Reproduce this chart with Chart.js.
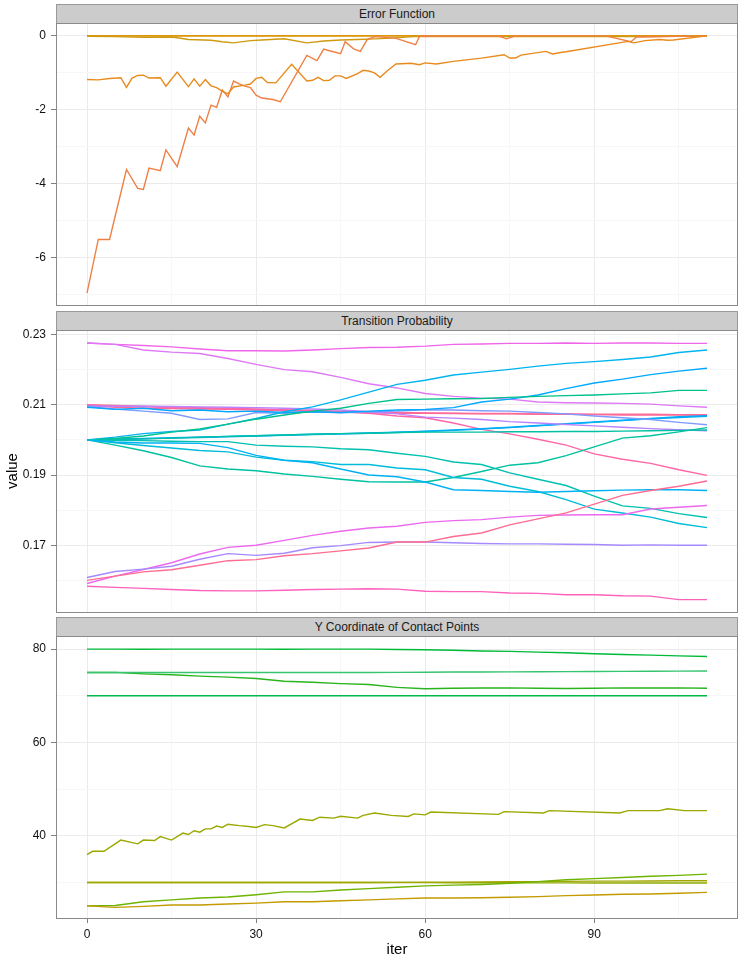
<!DOCTYPE html>
<html>
<head>
<meta charset="utf-8">
<script src="https://cdn.jsdelivr.net/npm/chart.js@4.4.0/dist/chart.umd.min.js"></script>
<style>
body{margin:0;background:#fff;font-family:Arial,"Liberation Sans",sans-serif;}
#wrap{position:relative;width:748px;height:964px;overflow:hidden;}
canvas{position:absolute;left:0;}
.strip{position:absolute;left:56px;width:682px;height:19px;background:#ccc;box-sizing:border-box;border:1px solid #999;border-bottom:none;font-size:12px;text-align:center;line-height:18px;color:#1a1a1a;}
.lab{position:absolute;font-size:15px;color:#000;height:16px;line-height:16px;width:40px;text-align:center;}
</style>
</head>
<body>
<div id="wrap">
  <div class="strip" style="top:4px">Error Function</div>
  <div class="strip" style="top:311px">Transition Probability</div>
  <div class="strip" style="top:617px">Y Coordinate of Contact Points</div>
  <canvas id="c1" width="748" height="293" style="top:13px"></canvas>
  <canvas id="c2" width="748" height="293" style="top:320px"></canvas>
  <canvas id="c3" width="748" height="337" style="top:626px"></canvas>
  <div class="lab" style="left:-8px;top:463px;transform:rotate(-90deg)">value</div>
  <div class="lab" style="left:377px;top:941px">iter</div>
</div>
<script>
// x axis
const xTicks = [0, 30, 60, 90];
const xMinor = [15, 45, 75, 105];

// ---- Error Function
const errIterFlat = [0, 110];
const errFlat = [0, 0];
const errIterGold = [0, 5, 10, 15, 16, 18, 22, 24, 26, 29, 31, 35, 39, 42, 45, 48, 51, 54, 56, 58, 60, 100, 110];
const errGold = [-0.01, -0.02, -0.04, -0.03, -0.05, -0.1, -0.12, -0.16, -0.19, -0.13, -0.11, -0.08, -0.19, -0.14, -0.11, -0.1, -0.08, -0.06, -0.04, -0.02, -0.02, -0.02, 0];
const errIterSalmon = [0, 2, 4, 7, 9, 10, 11, 13, 14, 16, 18, 19, 20, 21, 22, 23, 24, 25, 26, 27, 28, 29, 30, 31, 33, 34.3, 39, 40.8, 42, 43.2, 45, 45.8, 47.3, 48.5, 49.7, 51, 54.7, 58.3, 59, 73, 74.4, 76, 92, 96.5, 97.5, 110];
const errSalmon = [-6.95, -5.5, -5.5, -3.61, -4.12, -4.15, -3.57, -3.64, -3.08, -3.53, -2.49, -2.68, -2.17, -2.35, -1.87, -1.93, -1.46, -1.65, -1.22, -1.3, -1.36, -1.4, -1.6, -1.68, -1.72, -1.78, -0.53, -0.67, -0.36, -0.41, -0.48, -0.16, -0.35, -0.42, -0.1, -0.02, -0.06, -0.24, -0.01, 0, -0.08, 0, 0, -0.16, -0.03, 0];
const errIterOrange = [0, 2, 4, 6, 7, 8, 9, 10, 11, 13, 14, 16, 18, 19, 20, 21, 22, 23, 24, 25, 26, 28, 29, 30, 31, 32, 33.5, 36.3, 39, 40, 41, 42, 43, 44, 45, 46, 48, 49, 50, 51, 52, 53.3, 54.8, 57.5, 59, 60, 62, 65, 70, 74, 75, 76, 77, 81.4, 82.6, 84, 85, 96, 97, 99, 101.6, 103, 104, 110];
const errOrange = [-1.18, -1.19, -1.15, -1.13, -1.39, -1.14, -1.07, -1.06, -1.14, -1.13, -1.36, -0.98, -1.37, -1.16, -1.36, -1.18, -1.35, -1.4, -1.5, -1.56, -1.38, -1.33, -1.3, -1.15, -1.12, -1.26, -1.27, -0.77, -1.22, -1.2, -1.12, -1.21, -1.2, -1.08, -1.08, -1.15, -1.02, -0.93, -0.95, -1.0, -1.12, -0.94, -0.76, -0.74, -0.78, -0.73, -0.76, -0.69, -0.6, -0.51, -0.6, -0.6, -0.52, -0.42, -0.49, -0.45, -0.43, -0.15, -0.19, -0.13, -0.1, -0.12, -0.11, 0];
const errTicks = [0, -2, -4, -6];
const errMinor = [-1, -3, -5, -7];

// ---- Transition Probability (iter 0,5,...,110)
const iters = [0, 5, 10, 15, 20, 25, 30, 35, 40, 45, 50, 55, 60, 65, 70, 75, 80, 85, 90, 95, 100, 105, 110];
const tp1 = [.2276, .2272, .2269, .2265, .2259, .2254, .2254, .2253, .2256, .2260, .2263, .2264, .2267, .2272, .2273, .2275, .2275, .2276, .2275, .2276, .2276, .2275, .2275];
const tp2 = [.2276, .2272, .2256, .2250, .2246, .2232, .2215, .2200, .2194, .2178, .2160, .2148, .2132, .2124, .2119, .2116, .2108, .2106, .2105, .2104, .2102, .2097, .2093];
const tp3 = [.2100, .2098, .2096, .2094, .2092, .2090, .2088, .2086, .2084, .2082, .2080, .2078, .2077, .2076, .2075, .2075, .2074, .2074, .2073, .2073, .2073, .2072, .2072];
const tp3b = [.2098, .2093, .2090, .2089, .2088, .2087, .2085, .2083, .2082, .2079, .2077, .2076, .2076, .2075, .2074, .2074, .2073, .2073, .2072, .2071, .2071, .2071, .2070];
const tp4 = [.2099, .2096, .2094, .2092, .2090, .2089, .2087, .2085, .2083, .2080, .2076, .2068, .2063, .2048, .2030, .2017, .2002, .1985, .1960, .1945, .1933, .1915, .1899];
const tp5 = [.2097, .2096, .2096, .2095, .2094, .2093, .2092, .2090, .2088, .2085, .2080, .2074, .2065, .2062, .2058, .2052, .2048, .2044, .2040, .2036, .2032, .2029, .2026];
const tp6 = [.2095, .2088, .2082, .2076, .2058, .2060, .2078, .2076, .2080, .2077, .2080, .2082, .2086, .2085, .2083, .2082, .2078, .2074, .2068, .2063, .2058, .2050, .2043];
const tp7 = [.2000, .2008, .2018, .2024, .2028, .2045, .2061, .2080, .2094, .2114, .2136, .2158, .2170, .2185, .2193, .2201, .2210, .2218, .2223, .2229, .2236, .2249, .2256];
const tp8 = [.2093, .2087, .2090, .2083, .2085, .2080, .2082, .2078, .2080, .2078, .2082, .2085, .2087, .2092, .2108, .2116, .2128, .2146, .2162, .2173, .2186, .2196, .2204];
const tp9 = [.2000, .2004, .2011, .2022, .2031, .2045, .2059, .2071, .2082, .2090, .2104, .2115, .2116, .2117, .2118, .2121, .2124, .2126, .2128, .2131, .2134, .2141, .2141];
const tp10 = [.2000, .2002, .2004, .2006, .2008, .2010, .2012, .2014, .2016, .2018, .2020, .2022, .2025, .2028, .2032, .2036, .2041, .2046, .2051, .2056, .2061, .2066, .2069];
const tp10b = [.2000, .2002, .2003, .2005, .2007, .2009, .2011, .2013, .2015, .2017, .2019, .2021, .2024, .2027, .2031, .2035, .2040, .2045, .2050, .2055, .2060, .2064, .2067];
const tp11 = [.2000, .2001, .2003, .2005, .2008, .2010, .2012, .2014, .2016, .2018, .2019, .2021, .2022, .2022, .2022, .2023, .2023, .2024, .2024, .2025, .2026, .2027, .2028];
const tp12 = [.2000, .1985, .1969, .1950, .1926, .1917, .1912, .1903, .1896, .1888, .1881, .1880, .1880, .1893, .1910, .1928, .1935, .1955, .1980, .2005, .2012, .2023, .2035];
const tp13 = [.2000, .1999, .1998, .1996, .1995, .1995, .1985, .1982, .1980, .1975, .1972, .1962, .1953, .1937, .1930, .1906, .1888, .1870, .1840, .1812, .1805, .1790, .1779];
const tp14 = [.2000, .1992, .1984, .1977, .1970, .1966, .1951, .1942, .1938, .1930, .1930, .1920, .1915, .1893, .1888, .1868, .1853, .1830, .1803, .1792, .1780, .1762, .1750];
const tp15 = [.2000, .1994, .1991, .1991, .1990, .1978, .1956, .1942, .1935, .1917, .1900, .1895, .1880, .1858, .1856, .1853, .1851, .1853, .1855, .1857, .1858, .1858, .1856];
const tp16 = [.1591, .1612, .1631, .1650, .1675, .1694, .1700, .1714, .1728, .1740, .1749, .1754, .1765, .1770, .1773, .1780, .1785, .1786, .1787, .1787, .1803, .1808, .1813];
const tp17 = [.1608, .1625, .1632, .1640, .1660, .1676, .1671, .1677, .1693, .1699, .1708, .1709, .1709, .1707, .1705, .1704, .1704, .1703, .1702, .1700, .1701, .1700, .1700];
const tp18 = [.1600, .1612, .1624, .1630, .1643, .1656, .1659, .1670, .1676, .1684, .1692, .1709, .1709, .1725, .1735, .1758, .1775, .1792, .1817, .1842, .1856, .1868, .1883];
const tp19 = [.1583, .1580, .1577, .1574, .1571, .1570, .1570, .1572, .1574, .1575, .1576, .1575, .1569, .1568, .1568, .1564, .1563, .1559, .1559, .1556, .1555, .1545, .1545];
const tpTicks = [0.17, 0.19, 0.21, 0.23];
const tpTickLabels = ['0.17', '0.19', '0.21', '0.23'];
const tpMinor = [0.16, 0.18, 0.20, 0.22];

// ---- Y Coordinate of Contact Points
const yc80 = [80.0, 80.0, 79.95, 80.0, 80.0, 80.0, 80.0, 79.95, 80.0, 80.0, 80.0, 79.9, 79.85, 79.75, 79.6, 79.5, 79.35, 79.2, 79.0, 78.85, 78.7, 78.55, 78.4];
const yc75a = [75.0, 75.0, 75.0, 75.0, 75.0, 75.0, 75.0, 75.0, 75.0, 75.0, 75.0, 75.02, 75.05, 75.08, 75.1, 75.12, 75.15, 75.18, 75.2, 75.22, 75.25, 75.28, 75.3];
const yc75b = [75.0, 75.0, 74.7, 74.5, 74.2, 74.0, 73.7, 73.1, 72.9, 72.6, 72.4, 71.8, 71.5, 71.6, 71.65, 71.7, 71.6, 71.55, 71.6, 71.7, 71.65, 71.7, 71.6];
const yc70 = [70, 70, 70, 70, 70, 70, 70, 70, 70, 70, 70, 70, 70, 70, 70, 70, 70, 70, 70, 70, 70, 70, 70];
const yc30a = [30.0, 30.0, 30.0, 30.0, 30.0, 30.0, 30.0, 30.0, 30.0, 30.0, 30.0, 30.0, 29.98, 29.97, 29.96, 29.95, 29.94, 29.93, 29.92, 29.91, 29.9, 29.9, 29.9];
const yc30b = [30.0, 30.0, 30.0, 30.0, 30.0, 30.0, 30.0, 30.0, 30.0, 30.0, 30.0, 30.05, 30.08, 30.1, 30.15, 30.18, 30.2, 30.25, 30.3, 30.32, 30.35, 30.38, 30.4];
const yc25a = [25.0, 25.1, 25.9, 26.3, 26.7, 26.9, 27.4, 28.0, 28.0, 28.4, 28.7, 29.0, 29.3, 29.45, 29.6, 29.85, 30.2, 30.6, 30.85, 31.1, 31.35, 31.55, 31.8];
const yc25b = [25.0, 24.7, 24.9, 25.2, 25.2, 25.4, 25.6, 25.9, 25.9, 26.1, 26.3, 26.5, 26.7, 26.7, 26.75, 26.85, 27.0, 27.2, 27.35, 27.5, 27.55, 27.7, 27.9];
const ycIterOlive = [0, 1, 3, 6, 9, 10, 12, 13, 15, 17, 18, 19, 20, 21, 22, 23, 24, 25, 27, 28.7, 30, 31.5, 33, 35, 37.8, 40, 41.3, 43.8, 45, 48, 49, 51, 54, 57, 58, 60, 61, 73, 74, 81, 82, 94.5, 96, 101.6, 103, 106, 110];
const ycOlive = [36.0, 36.7, 36.7, 39.1, 38.3, 39.1, 39.0, 39.85, 39.1, 40.6, 40.3, 41.1, 40.8, 41.5, 41.5, 42.1, 41.8, 42.5, 42.2, 42.0, 41.8, 42.4, 42.2, 41.7, 43.6, 43.3, 44.0, 43.8, 44.2, 43.8, 44.4, 44.9, 44.4, 44.15, 44.7, 44.5, 45.1, 44.6, 45.2, 44.9, 45.4, 44.9, 45.4, 45.4, 45.8, 45.4, 45.4];
const ycTicks = [40, 60, 80];
const ycMinor = [30, 50, 70];

Chart.defaults.font.family = 'Arial, "Liberation Sans", sans-serif';
Chart.defaults.color = '#111';

function pts(xs, ys) { return xs.map((x, i) => ({ x: x, y: ys[i] })); }
function line(xs, ys, color) {
  return { data: pts(xs, ys), borderColor: color, borderWidth: 1.4, pointRadius: 0, tension: 0, fill: false };
}
function has(list, v) { return list.some(t => Math.abs(t - v) < 1e-9); }

const panelBorder = {
  id: 'panelBorder',
  afterDatasetsDraw(chart) {
    const a = chart.chartArea, c = chart.ctx;
    c.save();
    c.strokeStyle = '#8a8a8a';
    c.lineWidth = 1;
    c.strokeRect(a.left + 0.5, a.top + 0.5, a.right - a.left - 1, a.bottom - a.top - 1);
    c.restore();
  }
};

function gridColor(major) {
  return ctx => has(major, ctx.tick.value) ? '#ebebeb' : '#f7f7f7';
}

// canvas is 10px taller than the panel at the top so the top tick label is not cut
function makePanel(id, datasets, yMin, yMax, yMajor, yMinor, yLabel, showX) {
  new Chart(document.getElementById(id), {
    type: 'line',
    data: { datasets: datasets },
    options: {
      responsive: false,
      animation: false,
      devicePixelRatio: 1,
      layout: { padding: { left: 0, right: 10, top: 10, bottom: 0 } },
      plugins: { legend: { display: false }, tooltip: { enabled: false } },
      scales: {
        x: {
          type: 'linear', min: -5.5, max: 115.5,
          afterBuildTicks: s => { s.ticks = xTicks.concat(xMinor).sort((a, b) => a - b).map(v => ({ value: v })); },
          afterFit: s => { s.height = showX ? 44 : 0; s.paddingLeft = 0; s.paddingRight = 0; },
          border: { display: false },
          grid: { color: gridColor(xTicks), lineWidth: 1, drawTicks: showX, tickLength: 4,
                  tickColor: ctx => has(xTicks, ctx.tick.value) ? '#7f7f7f' : 'rgba(0,0,0,0)' },
          ticks: { display: showX, padding: 4, maxRotation: 0, autoSkip: false, font: { size: 12 }, color: '#111',
                   callback: v => has(xTicks, v) ? String(v) : '' }
        },
        y: {
          type: 'linear', min: yMin, max: yMax,
          afterBuildTicks: s => { s.ticks = yMajor.concat(yMinor).sort((a, b) => a - b).map(v => ({ value: v })); },
          afterFit: s => { s.width = 56; s.paddingTop = 0; s.paddingBottom = 0; },
          border: { display: false },
          grid: { color: gridColor(yMajor), lineWidth: 1, tickLength: 5,
                  tickColor: ctx => has(yMajor, ctx.tick.value) ? '#7f7f7f' : 'rgba(0,0,0,0)' },
          ticks: { padding: 5, autoSkip: false, font: { size: 12 }, color: '#111', callback: yLabel }
        }
      }
    },
    plugins: [panelBorder]
  });
}

makePanel('c1', [
  line(errIterOrange, errOrange, '#E88B1C'),
  line(errIterSalmon, errSalmon, '#EF8045'),
  line(errIterGold, errGold, '#CF9A12'),
  line(errIterFlat, errFlat, '#DC9000'),
  line(errIterFlat, errFlat, '#D99500')
], -7.2975, 0.3475, errTicks, errMinor, v => has(errTicks, v) ? String(v) : '', false);

makePanel('c2', [
  line(iters, tp19, '#FF62BC'),
  line(iters, tp18, '#FF6C91'),
  line(iters, tp17, '#A58AFF'),
  line(iters, tp16, '#EC69EF'),
  line(iters, tp15, '#00B2F3'),
  line(iters, tp14, '#00BCD8'),
  line(iters, tp13, '#00C0AF'),
  line(iters, tp12, '#00C1A0'),
  line(iters, tp11, '#00C1A3'),
  line(iters, tp9, '#00C08D'),
  line(iters, tp7, '#00B4EF'),
  line(iters, tp8, '#00A8FF'),
  line(iters, tp6, '#7E9BFF'),
  line(iters, tp5, '#B983FF'),
  line(iters, tp2, '#DE78F5'),
  line(iters, tp1, '#F066EA'),
  line(iters, tp10b, '#00B0F6'),
  line(iters, tp10, '#00A9FF'),
  line(iters, tp4, '#FF66A8'),
  line(iters, tp3b, '#FF6A98'),
  line(iters, tp3, '#FF6C91')
], 0.1507, 0.2313, tpTicks, tpMinor, v => {
  const i = tpTicks.findIndex(t => Math.abs(t - v) < 1e-9);
  return i >= 0 ? tpTickLabels[i] : '';
}, false);

makePanel('c3', [
  line(iters, yc80, '#00BA38'),
  line(iters, yc75a, '#35C46F'),
  line(iters, yc75b, '#29B41E'),
  line(iters, yc70, '#00B94A'),
  line(ycIterOlive, ycOlive, '#9BA800'),
  line(iters, yc25b, '#C39B00'),
  line(iters, yc25a, '#6DB300'),
  line(iters, yc30b, '#A2A600'),
  line(iters, yc30a, '#8CAB00')
], 22.2, 82.8, ycTicks, ycMinor, v => has(ycTicks, v) ? String(v) : '', true);
</script>
</body>
</html>
